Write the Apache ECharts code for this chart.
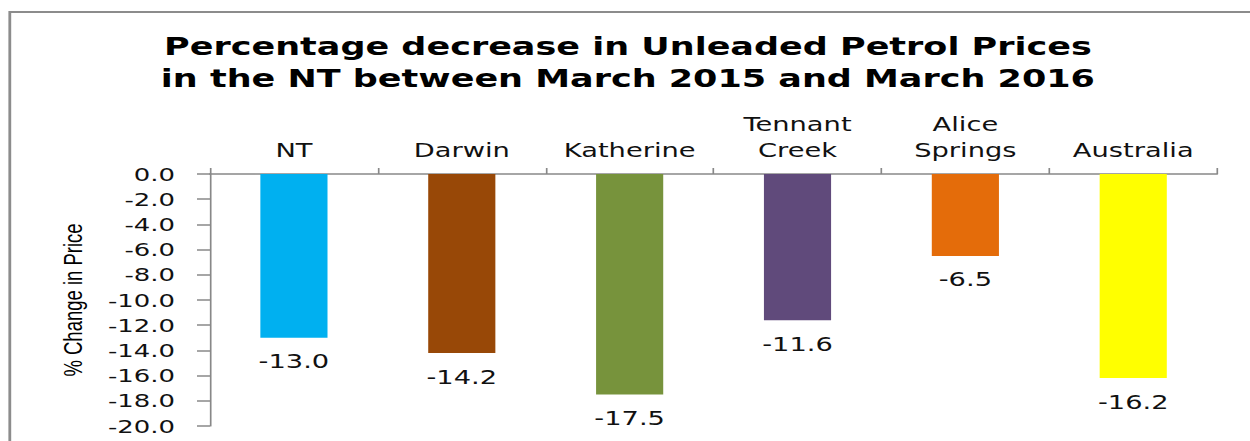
<!DOCTYPE html>
<html><head><meta charset="utf-8">
<script src="https://cdn.jsdelivr.net/npm/echarts@6/dist/echarts.min.js"></script>
<style>
html,body{margin:0;padding:0;background:#fff;overflow:hidden;width:1250px;height:441px}
#c{width:893px;height:441px;transform:scaleX(1.4);transform-origin:0 0}
</style>
</head><body><div id="c"></div>
<script>
const categories = ['NT', 'Darwin', 'Katherine', 'Tennant\nCreek', 'Alice\nSprings', 'Australia'];
const values = [-13.0, -14.2, -17.5, -11.6, -6.5, -16.2];
const barColors = ['#00B0F0', '#984807', '#77933C', '#604A7B', '#E46C0A', '#FFFF00'];
const titleLines = ['Percentage decrease in Unleaded Petrol Prices', 'in the NT between March 2015 and March 2016'];
const yAxisName = '% Change in Price';

const chart = echarts.init(document.getElementById('c'), null, {renderer: 'svg'});
chart.setOption({
  animation: false,
  backgroundColor: '#fff',
  graphic: [{
    type: 'rect', shape: {x: 7, y: 12, width: 1000, height: 460},
    style: {fill: 'none', stroke: '#8c8c8c', lineWidth: 2}, silent: true, z: 100
  }],
  title: {
    text: titleLines.join('\n'),
    left: 443.5, textAlign: 'center', top: 25,
    textStyle: {fontFamily: 'DejaVu Sans', fontWeight: 'bold', fontSize: 25, lineHeight: 32, color: '#000'}
  },
  grid: {left: 150, right: 23.6, top: 174, bottom: 15, containLabel: false},
  xAxis: {
    type: 'category', data: categories, position: 'top',
    axisLine: {lineStyle: {color: '#888', width: 1.5}},
    axisTick: {show: true, length: 6, inside: false, lineStyle: {color: '#888', width: 1.2}},
    axisLabel: {fontFamily: 'DejaVu Sans', fontSize: 19.5, color: '#111', margin: 11, lineHeight: 26, interval: 0}
  },
  yAxis: {
    type: 'value', min: -20, max: 0, interval: 2,
    name: yAxisName, nameLocation: 'middle', nameGap: 88, nameRotate: 90,
    nameTextStyle: {fontFamily: 'Liberation Sans', fontSize: 18.5, color: '#000'},
    axisLine: {show: true, lineStyle: {color: '#888', width: 1.2}},
    axisTick: {show: true, length: 9.3, lineStyle: {color: '#888', width: 1.5}},
    splitLine: {show: false},
    axisLabel: {fontFamily: 'DejaVu Sans', fontSize: 18.5, color: '#111', margin: 25,
      formatter: v => v.toFixed(1)}
  },
  series: [{
    type: 'bar', barWidth: '40%',
    data: values.map((v, i) => ({value: v, itemStyle: {color: barColors[i]}})),
    label: {show: true, position: 'bottom', distance: 14, fontFamily: 'DejaVu Sans', fontSize: 19.5, color: '#111',
      formatter: p => p.value.toFixed(1)}
  }]
});
</script></body></html>
